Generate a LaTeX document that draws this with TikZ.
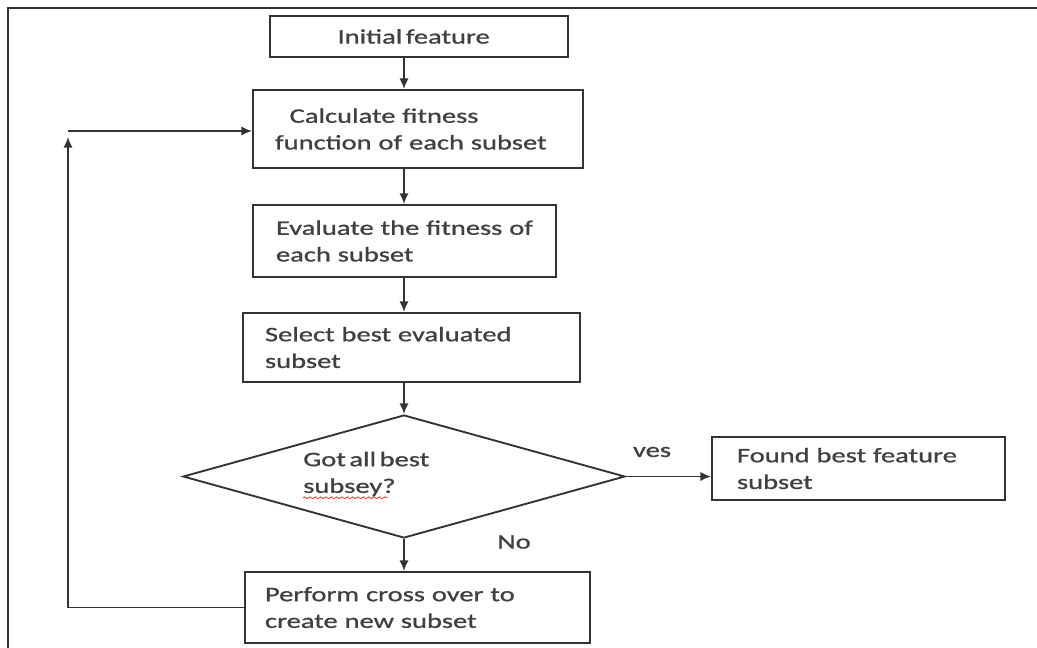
\documentclass[tikz,border=0pt]{standalone}
\usepackage{fontspec}
\setmainfont{Carlito}[FakeStretch=1.38,FakeBold=0.9,WordSpace=0.55]
\usetikzlibrary{arrows.meta,shapes.geometric,decorations.pathmorphing}
\definecolor{ln}{HTML}{333333}
\definecolor{tx}{HTML}{404040}
\begin{document}
\begin{tikzpicture}[x=0.75pt,y=-0.75pt,
  box/.style={draw=ln, line width=1.4pt, rectangle, inner ysep=2pt,
    font=\fontsize{15.5}{20}\selectfont, text=tx, align=left},
  txt/.style={font=\fontsize{15.5}{20}\selectfont, text=tx, inner sep=0pt},
  arr/.style={draw=ln, line width=1.4pt, -{Latex[length=8pt,width=7pt]}}]
\fill[white] (0,0) rectangle (1037,648);
\useasboundingbox (0,0) rectangle (1037,648);
% frame
\draw[ln, line width=2.2pt] (8,648) -- (8,8) -- (1037,8);
% nodes
\node[box, minimum width=223.5pt, minimum height=30.75pt, align=center] (init) at (419,36.5) {\hspace*{-8pt}Initial feature};
\node[box, minimum width=247.5pt, minimum height=58.5pt, text width=214.5pt] (calc) at (418,129)
  {\hspace*{11pt}\mbox{Calculate fitness}\\\mbox{function of each subset}};
\node[box, minimum width=227.25pt, minimum height=54pt, text width=192.75pt] (eval) at (404.5,241)
  {\mbox{Evaluate the fitness of}\\\mbox{each subset}};
\node[box, minimum width=252.75pt, minimum height=51.75pt, text width=219.75pt] (select) at (411.5,347.5)
  {\mbox{Select best evaluated}\\\mbox{subset}};
\node[draw=ln, line width=1.4pt, diamond, minimum width=331.5pt, minimum height=92.25pt, inner sep=0pt] (dec) at (404,476.5) {};
\node[txt, align=left, anchor=west] (dectxt) at (303,474) {Got all best\\subsey?};
\node[box, minimum width=219.75pt, minimum height=47.25pt, text width=182.25pt] (found) at (858.5,468.5)
  {\mbox{Found best feature}\\\mbox{subset}};
\node[box, minimum width=258.75pt, minimum height=53.25pt, text width=228.75pt] (perform) at (417.5,607.5)
  {\mbox{Perform cross over to}\\\mbox{create new subset}};
\node[txt] (yes) at (652,452) {ves};
\node[txt] (no) at (514,542) {No};
% spell-check squiggle
\draw[red!80, line width=0.6pt, decorate, decoration={snake, amplitude=0.7pt, segment length=4pt}]
  ([yshift=-1pt]dectxt.south west) -- ++(85,0);
% connectors
\draw[arr] (init.south -| dec.north) -- (calc.north -| dec.north);
\draw[arr] (calc.south -| dec.north) -- (eval.north -| dec.north);
\draw[arr] (eval.south -| dec.north) -- (select.north -| dec.north);
\draw[arr] (select.south -| dec.north) -- (dec.north);
\draw[arr] (dec.east) -- (found.west |- dec.east);
\draw[arr] (dec.south) -- (perform.north -| dec.south);
\coordinate (upend) at (68,137);
\coordinate (turn) at (68,131);
\draw[arr] (perform.west) -| (upend);
\draw[arr] (turn) -- (calc.west |- turn);
\end{tikzpicture}
\end{document}
